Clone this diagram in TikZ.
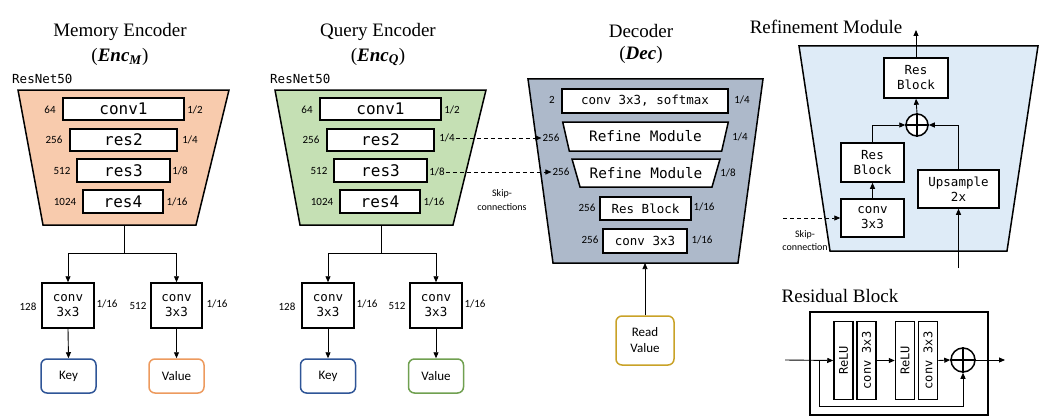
\documentclass[tikz,border=0pt]{standalone}
\usepackage{fontspec}
\setmainfont{Liberation Serif}
\newfontfamily\calib{Carlito}
\newfontfamily\mono{DejaVu Sans Mono}
\usetikzlibrary{arrows.meta}
\definecolor{encm}{HTML}{F8CBAD}
\definecolor{encq}{HTML}{C5E0B4}
\definecolor{decc}{HTML}{ADB9CA}
\definecolor{refc}{HTML}{DEEBF7}
\definecolor{keyc}{HTML}{2F5597}
\definecolor{valm}{HTML}{ED9A5E}
\definecolor{valq}{HTML}{70A050}
\definecolor{rvc}{HTML}{C9A227}
\tikzset{
  ttl/.style={font=\fontsize{19}{22}\selectfont, inner sep=0pt},
  num/.style={font=\calib\fontsize{11}{12}\selectfont, inner sep=1pt},
  blk/.style={draw, line width=1.5pt, fill=white, inner sep=0pt, font=\mono\fontsize{16}{18}\selectfont},
  sblk/.style={draw, line width=1.5pt, fill=white, inner sep=0pt, align=center, font=\mono\fontsize{12.5}{15}\selectfont},
  vblk/.style={draw, line width=1.5pt, fill=white, inner sep=0pt, minimum width=19pt, minimum height=78pt, font=\mono\fontsize{12}{14}\selectfont},
  outbox/.style={draw, line width=1.5pt, rounded corners=6pt, fill=white, inner sep=0pt, minimum width=55pt, minimum height=34pt, align=center, font=\calib\fontsize{13}{16}\selectfont},
  arr/.style={-{Triangle[length=6pt,width=5pt]}, line width=0.9pt},
  skp/.style={-{Triangle[length=6pt,width=5pt]}, line width=0.9pt, dash pattern=on 4pt off 3pt},
  trap/.style={draw, line width=1.5pt},
  plus/.style={draw, circle, line width=1.5pt, minimum size=22pt, inner sep=0pt, fill=white},
  rn/.style={anchor=west, inner sep=0pt, font=\mono\fontsize{12.5}{14}\selectfont},
}
\begin{document}
\begin{tikzpicture}[x=1pt,y=-1pt]
\useasboundingbox (0,0) rectangle (1044,420);

\node[ttl] (tm) at (120,32) {Memory Encoder};
\node[ttl] (tm2) at (120,57) {(\textbf{\textit{Enc}}\textsubscript{\textbf{\textit{M}}})};
\node[rn] (rnm) at (12,79) {ResNet50};
\draw[trap, fill=encm] (18,90) -- (229,90) -- (196,225) -- (43,225) -- cycle;
\node[blk, minimum width=121pt, minimum height=22pt] (m1) at (123.5,109) {conv1};
\node[blk, minimum width=107pt, minimum height=22pt] (m2) at (123.5,140) {res2};
\node[blk, minimum width=93pt, minimum height=23pt] (m3) at (123.5,170.5) {res3};
\node[blk, minimum width=80pt, minimum height=23pt] (m4) at (123,201.5) {res4};
\node[num] (m1l) at (50,110) {64};
\node[num] (m2l) at (54,140) {256};
\node[num] (m3l) at (62,171) {512};
\node[num] (m4l) at (65,202) {1024};
\node[num] (m1r) at (195,110) {1/2};
\node[num] (m2r) at (190,140) {1/4};
\node[num] (m3r) at (180,171) {1/8};
\node[num] (m4r) at (177,202) {1/16};
\coordinate (mb) at (124,225);
\coordinate (ms) at (124,253);
\node[sblk, minimum width=52pt, minimum height=45pt] (mk) at (68,305.5) {conv\\3x3};
\node[sblk, minimum width=51pt, minimum height=45pt] (mv) at (176.5,305.5) {conv\\3x3};
\node[num] (mkl) at (28,307) {128};
\node[num] (mkr) at (107,304) {1/16};
\node[num] (mvl) at (138,306) {512};
\node[num] (mvr) at (217,304) {1/16};
\node[outbox, draw=keyc] (mkey) at (68.5,376) {Key};
\node[outbox, draw=valm] (mval) at (176.5,376) {Value};
\draw[line width=0.9pt] (mb) -- (ms);
\draw[arr] (ms) -| (mk.north);
\draw[arr] (ms) -| (mv.north);
\draw[arr] (mk.south) -- (mkey.north);
\draw[arr] (mv.south) -- (mval.north);

\node[ttl] (tq) at (378,32) {Query Encoder};
\node[ttl] (tq2) at (378,57) {(\textbf{\textit{Enc}}\textsubscript{\textbf{\textit{Q}}})};
\node[rn] (rnq) at (270,79) {ResNet50};
\draw[trap, fill=encq] (275,90) -- (486,90) -- (453,225) -- (300,225) -- cycle;
\node[blk, minimum width=121pt, minimum height=22pt] (q1) at (380.5,109) {conv1};
\node[blk, minimum width=107pt, minimum height=22pt] (q2) at (380.5,140) {res2};
\node[blk, minimum width=93pt, minimum height=23pt] (q3) at (380.5,170.5) {res3};
\node[blk, minimum width=80pt, minimum height=23pt] (q4) at (380,201.5) {res4};
\node[num] (q1l) at (307,110) {64};
\node[num] (q2l) at (311,140) {256};
\node[num] (q3l) at (319,171) {512};
\node[num] (q4l) at (322,202) {1024};
\node[num] (q1r) at (452,110) {1/2};
\node[num] (q2r) at (447,138) {1/4};
\node[num] (q3r) at (437,172) {1/8};
\node[num] (q4r) at (434,202) {1/16};
\coordinate (qb) at (381,225);
\coordinate (qs) at (381,253);
\node[sblk, minimum width=52pt, minimum height=45pt] (qk) at (328,305.5) {conv\\3x3};
\node[sblk, minimum width=52pt, minimum height=45pt] (qv) at (436,305.5) {conv\\3x3};
\node[num] (qkl) at (287,307) {128};
\node[num] (qkr) at (367,304) {1/16};
\node[num] (qvl) at (397,306) {512};
\node[num] (qvr) at (475,304) {1/16};
\node[outbox, draw=keyc] (qkey) at (328,376) {Key};
\node[outbox, draw=valq] (qval) at (436,376) {Value};
\draw[line width=0.9pt] (qb) -- (qs);
\draw[arr] (qs) -| (qk.north);
\draw[arr] (qs) -| (qv.north);
\draw[arr] (qk.south) -- (qkey.north);
\draw[arr] (qv.south) -- (qval.north);
\node[num, align=center, font=\calib\fontsize{10}{14}\selectfont] (skc) at (502,200) {Skip-\\connections};

\node[ttl] (td) at (641,31) {Decoder};
\node[ttl] (td2) at (641,55) {(\textbf{\textit{Dec}})};
\draw[trap, fill=decc] (528,79) -- (763,79) -- (738,263) -- (553,263) -- cycle;
\node[blk, minimum width=166pt, minimum height=24pt, font=\mono\fontsize{12.5}{14}\selectfont] (d1) at (645,101) {conv 3x3, softmax};
\draw[trap, fill=white] (562.7,122) -- (728.3,122) -- (721.7,151) -- (569.3,151) -- cycle;
\node[font=\mono\fontsize{14.4}{16}\selectfont] (d2) at (645.5,136.5) {Refine Module};
\draw[trap, fill=white] (572,159) -- (720,159) -- (712,187) -- (580,187) -- cycle;
\node[font=\mono\fontsize{14.4}{16}\selectfont] (d3) at (646,173) {Refine Module};
\node[blk, minimum width=91pt, minimum height=23pt, font=\mono\fontsize{12.5}{14}\selectfont] (d4) at (645.5,208.5) {Res Block};
\node[blk, minimum width=84pt, minimum height=24pt, font=\mono\fontsize{12.5}{14}\selectfont] (d5) at (645,241) {conv 3x3};
\node[num] (d1l) at (552,100) {2};
\node[num] (d1r) at (742,100) {1/4};
\node[num] (d2l) at (551,138) {256};
\node[num] (d2r) at (740,137) {1/4};
\node[num] (d3l) at (561,172) {256};
\node[num] (d3r) at (728,173) {1/8};
\node[num] (d4l) at (587,208) {256};
\node[num] (d4r) at (704,207) {1/16};
\node[num] (d5l) at (590,240) {256};
\node[num] (d5r) at (702,240) {1/16};
\coordinate (db) at (645,263);
\node[outbox, draw=rvc, minimum width=58pt, minimum height=49pt] (rv) at (645,340.5) {Read\\Value};
\draw[arr, line width=0.7pt] (rv.north) -- (db);
\draw[skp] (q2r.east) -- (d2l.west);
\draw[skp] (q3r.east) -- (d3l.west);

\node[ttl] (tr) at (826,27) {Refinement Module};
\draw[trap, fill=refc] (799,46) -- (1038,46) -- (1007,251) -- (830,251) -- cycle;
\node[sblk, minimum width=64pt, minimum height=40pt] (rbt) at (916,78) {Res\\Block};
\node[plus] (rp) at (917,125) {};
\draw[line width=1.3pt] (rp.north) -- (rp.south) (rp.west) -- (rp.east);
\node[sblk, minimum width=63pt, minimum height=39pt] (rbl) at (872.5,162.5) {Res\\Block};
\node[sblk, minimum width=63pt, minimum height=38pt] (rcv) at (872.5,218) {conv\\3x3};
\node[sblk, minimum width=81pt, minimum height=38pt] (rup) at (958.5,189) {Upsample\\2x};
\coordinate (rout) at (916,30);
\coordinate (rin) at (958.5,268);
\coordinate (rsk) at (783,218);
\draw[arr] (rbt.north) -- (rout);
\draw[arr] (rp.north) -- (rbt.south);
\draw[arr] (rcv.north) -- (rbl.south);
\draw[arr] (rbl.north) |- (rp.west);
\draw[arr] (rup.north) |- (rp.east);
\draw[arr] (rin) -- (rup.south);
\draw[skp] (rsk) -- (rcv.west);
\node[num, align=center, font=\calib\fontsize{10}{13}\selectfont] (rskl) at (805,241) {Skip-\\connection};

\node[ttl] (tb) at (840,296) {Residual Block};
\node[draw, line width=1.5pt, minimum width=178pt, minimum height=103pt, inner sep=0pt] (bx) at (899,363.5) {};
\node[vblk] (br1) at (843.5,360.5) {\rotatebox{90}{ReLU}};
\node[vblk] (bc1) at (866.5,360.5) {\rotatebox{90}{conv 3x3}};
\node[vblk] (br2) at (905,360.5) {\rotatebox{90}{ReLU}};
\node[vblk] (bc2) at (928,360.5) {\rotatebox{90}{conv 3x3}};
\node[plus, minimum size=24pt] (bp) at (963,360) {};
\draw[line width=1.3pt] (bp.north) -- (bp.south) (bp.west) -- (bp.east);
\coordinate (bin) at (785,360);
\coordinate (bsk) at (819,360);
\coordinate (bsb) at (819,406);
\coordinate (bout) at (1005,360);
\draw[arr] (bin) -- (br1.west);
\draw[arr] (bsk) -- (bsb) -| (bp.south);
\draw[arr] (bc1.east) -- (br2.west);
\draw[arr] (bc2.east) -- (bp.west);
\draw[arr] (bp.east) -- (bout);
\end{tikzpicture}
\end{document}
